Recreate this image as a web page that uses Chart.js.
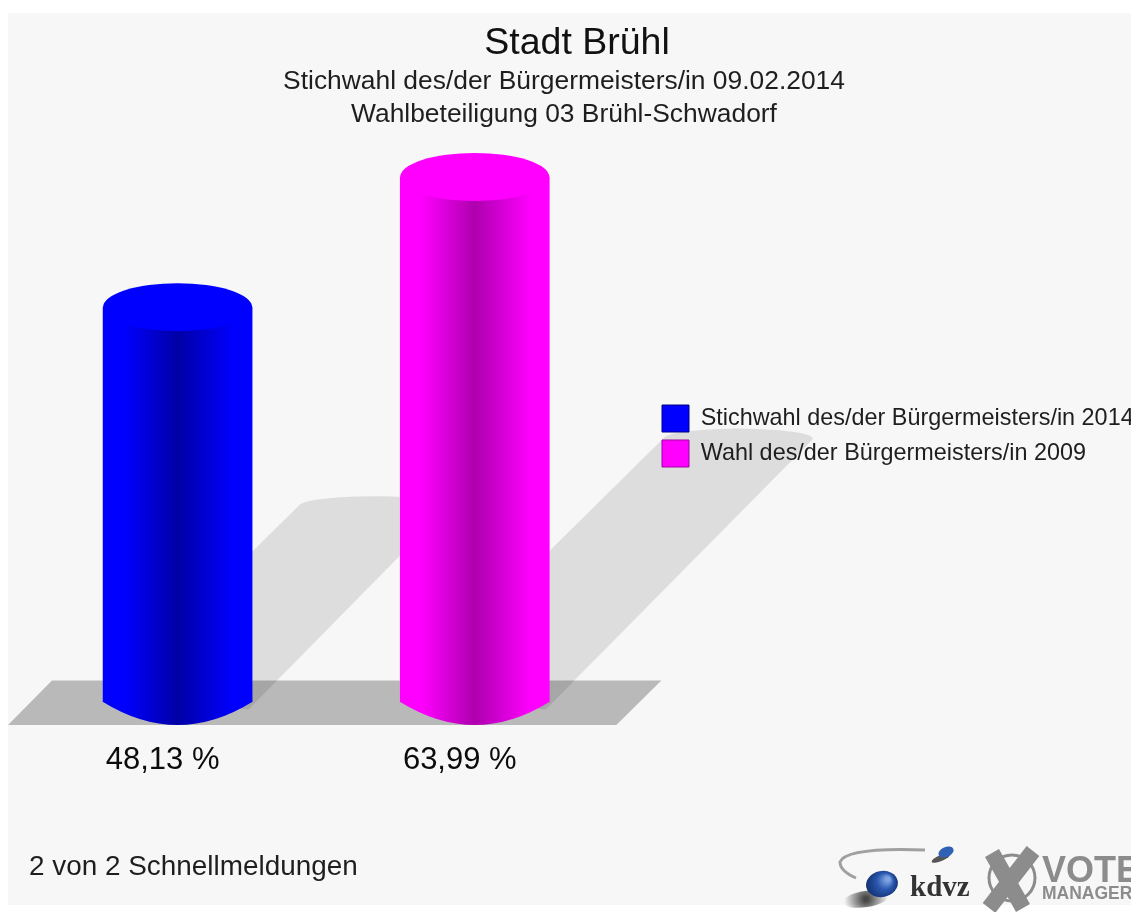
<!DOCTYPE html>
<html>
<head>
<meta charset="utf-8">
<title>Stadt Brühl</title>
<script src="https://cdn.jsdelivr.net/npm/chart.js@4"></script>
<style>
    body { margin: 0; background: #fff; }
    canvas { display: block; filter: blur(0.5px); }
</style>
</head>
<body>
<canvas id="chart" width="1131" height="912"></canvas>
<script>
const titleText = "Stadt Brühl";
const subtitleLines = ["Stichwahl des/der Bürgermeisters/in 09.02.2014", "Wahlbeteiligung 03 Brühl-Schwadorf"];
const categories = ["Stichwahl des/der Bürgermeisters/in 2014", "Wahl des/der Bürgermeisters/in 2009"];
const turnout = [48.13, 63.99];
const footerText = "2 von 2 Schnellmeldungen";
const brightColors = ["#0000ff", "#ff00ff"];
const darkColors = ["#0000a6", "#ae00ae"];
const legendBorders = ["#000080", "#a000a0"];

const fontFamily = "'Liberation Sans', Arial, sans-serif";
const textColor = "#1e1e1e";
const capHeight = 24;

function barGradient(ctx, left, right, i) {
    let g = ctx.createLinearGradient(left, 0, right, 0);
    g.addColorStop(0, brightColors[i]);
    g.addColorStop(0.14, brightColors[i]);
    g.addColorStop(0.5, darkColors[i]);
    g.addColorStop(0.88, brightColors[i]);
    g.addColorStop(1, brightColors[i]);
    return g;
}

// light grey panel behind everything
const panelPlugin = {
    id: "panel",
    beforeDraw(chart) {
        const ctx = chart.ctx;
        ctx.save();
        ctx.fillStyle = "#f7f7f7";
        ctx.fillRect(8, 13, chart.width - 8, chart.height - 20);
        ctx.restore();
    },
};

// title, subtitle and legend do not sit where the layout puts them, move them after it ran
const placementPlugin = {
    id: "placement",
    afterLayout(chart) {
        chart.boxes.forEach((box) => {
            if (box === chart.titleBlock) {
                box.left += 6;
                box.right += 6;
            } else if (box === chart.legend) {
                box.left = 654;
                box.right = chart.width;
                box.top = 397;
            } else if (box.options && box.options.text === subtitleLines) {
                box.left -= 7;
                box.right -= 7;
            }
        });
    },
};

// floor plate and the cast shadows, has to go in before the legend is drawn
const floorPlugin = {
    id: "floor",
    beforeDraw(chart) {
        const ctx = chart.ctx;
        const x = chart.scales.x;
        const y0 = chart.scales.y.getPixelForValue(0);
        ctx.save();
        ctx.fillStyle = "#b9b9b9";
        ctx.beginPath();
        ctx.moveTo(x.left - 21, y0 + 23);
        ctx.lineTo(x.left + 23, y0 - 21.5);
        ctx.lineTo(x.right + 38, y0 - 21.5);
        ctx.lineTo(x.right - 7, y0 + 23);
        ctx.closePath();
        ctx.fill();

        ctx.fillStyle = "rgba(0,0,0,0.1)";
        chart.getDatasetMeta(0).data.forEach((bar) => {
            const rx = bar.width / 2;
            const h = y0 - bar.y;
            const off = 0.519 * h - 9;
            const shadowRy = 10;
            const d = Math.hypot(rx, capHeight);
            const tip = Math.atan2(shadowRy, rx);
            ctx.beginPath();
            ctx.moveTo(bar.x - rx * rx / d, y0 - capHeight * capHeight / d);
            ctx.ellipse(bar.x + off, y0 - off, rx, shadowRy, 0, Math.PI + tip, 2 * Math.PI + tip);
            ctx.lineTo(bar.x + rx * rx / d, y0 + capHeight * capHeight / d);
            ctx.closePath();
            ctx.fill();
        });
        ctx.restore();
    },
};

// turns the flat bars into cylinders: round bottom and top cap
const cylinderPlugin = {
    id: "cylinder",
    afterDatasetsDraw(chart) {
        const ctx = chart.ctx;
        const y0 = chart.scales.y.getPixelForValue(0);
        ctx.save();
        chart.getDatasetMeta(0).data.forEach((bar, i) => {
            const left = bar.x - bar.width / 2;
            const right = bar.x + bar.width / 2;
            ctx.fillStyle = barGradient(ctx, left, right, i);
            ctx.beginPath();
            ctx.moveTo(left, y0 - 1);
            ctx.lineTo(left, y0);
            ctx.quadraticCurveTo(bar.x, y0 + 2 * (capHeight - 1), right, y0);
            ctx.lineTo(right, y0 - 1);
            ctx.closePath();
            ctx.fill();

            ctx.fillStyle = brightColors[i];
            ctx.beginPath();
            ctx.ellipse(bar.x, bar.y, bar.width / 2, capHeight, 0, 0, 2 * Math.PI);
            ctx.fill();
        });
        ctx.restore();
    },
};

// kdvz and Vote Manager logos at the bottom right
const logoPlugin = {
    id: "logo",
    afterDraw(chart) {
        const ctx = chart.ctx;
        ctx.save();

        ctx.strokeStyle = "#a0a0a0";
        ctx.lineWidth = 3;
        ctx.beginPath();
        ctx.moveTo(925, 850);
        ctx.quadraticCurveTo(846, 847, 840, 862);
        ctx.quadraticCurveTo(840, 871, 856, 878);
        ctx.stroke();

        ctx.fillStyle = "#555";
        ctx.beginPath();
        ctx.ellipse(941, 858, 10, 3, -0.4, 0, 2 * Math.PI);
        ctx.fill();
        ctx.fillStyle = "#2f62b5";
        ctx.beginPath();
        ctx.ellipse(946, 852, 8, 5, -0.4, 0, 2 * Math.PI);
        ctx.fill();

        let shade = ctx.createRadialGradient(866, 899, 2, 866, 899, 22);
        shade.addColorStop(0, "rgba(40,40,40,0.85)");
        shade.addColorStop(1, "rgba(40,40,40,0)");
        ctx.fillStyle = shade;
        ctx.beginPath();
        ctx.ellipse(866, 899, 24, 8, -0.15, 0, 2 * Math.PI);
        ctx.fill();
        let ball = ctx.createRadialGradient(888, 879, 2, 882, 884, 16);
        ball.addColorStop(0, "#7fa4e0");
        ball.addColorStop(0.45, "#2a58b0");
        ball.addColorStop(1, "#123070");
        ctx.fillStyle = ball;
        ctx.beginPath();
        ctx.ellipse(882, 884, 16, 13, -0.2, 0, 2 * Math.PI);
        ctx.fill();

        ctx.fillStyle = "#333";
        ctx.font = "bold 29px 'Liberation Serif', serif";
        ctx.textBaseline = "alphabetic";
        ctx.fillText("kdvz", 910, 896);

        ctx.strokeStyle = "#8c8c8c";
        ctx.lineWidth = 3;
        ctx.beginPath();
        ctx.arc(1012, 878, 23, 0, 2 * Math.PI);
        ctx.stroke();
        ctx.lineWidth = 16;
        ctx.beginPath();
        ctx.moveTo(992, 853);
        ctx.lineTo(1023, 908);
        ctx.moveTo(1033, 851);
        ctx.lineTo(989, 908);
        ctx.stroke();

        ctx.fillStyle = "#8c8c8c";
        ctx.font = "bold 36px " + fontFamily;
        ctx.fillText("VOTE", 1042, 882);
        ctx.font = "bold 17.5px " + fontFamily;
        ctx.fillText("MANAGER", 1042, 899);
        ctx.restore();
    },
};

new Chart(document.getElementById("chart"), {
    type: "bar",
    data: {
        labels: categories,
        datasets: [{
            data: turnout,
            barThickness: 149,
            borderWidth: 0,
            backgroundColor(c) {
                const x = c.chart.scales.x;
                if (!x || c.dataIndex === undefined) return brightColors[0];
                const center = x.getPixelForValue(c.dataIndex);
                return barGradient(c.chart.ctx, center - 74.5, center + 74.5, c.dataIndex);
            },
        }],
    },
    options: {
        responsive: false,
        animation: false,
        layout: { padding: { top: 20, left: 29, right: 18, bottom: 27.2 } },
        scales: {
            x: {
                grid: { display: false, drawTicks: false },
                border: { display: false },
                ticks: {
                    padding: 40,
                    labelOffset: -15,
                    maxRotation: 0,
                    autoSkip: false,
                    color: "#0c0c0c",
                    font: { family: fontFamily, size: 31, lineHeight: 1.2 },
                    callback(value, index) {
                        return turnout[index].toFixed(2).replace(".", ",") + " %";
                    },
                },
                title: {
                    display: true,
                    text: footerText,
                    align: "start",
                    color: textColor,
                    padding: { top: 31, bottom: 1 },
                    font: { family: fontFamily, size: 27.9, lineHeight: 1.2 },
                },
            },
            y: { display: false, min: 0, max: 69.6 },
        },
        plugins: {
            title: {
                display: true,
                text: titleText,
                color: "#111",
                padding: { top: 1, bottom: -1 },
                font: { family: fontFamily, size: 37.5, weight: "normal", lineHeight: 1.2 },
            },
            subtitle: {
                display: true,
                text: subtitleLines,
                color: textColor,
                padding: 0,
                font: { family: fontFamily, size: 26.4, lineHeight: 1.25 },
            },
            legend: {
                position: "right",
                align: "start",
                labels: {
                    boxWidth: 27,
                    boxHeight: 27,
                    padding: 8,
                    font: { family: fontFamily, size: 23.4 },
                    generateLabels() {
                        return categories.map((text, i) => ({
                            text: text,
                            fillStyle: brightColors[i],
                            strokeStyle: legendBorders[i],
                            fontColor: textColor,
                            lineWidth: 1,
                            index: i,
                        }));
                    },
                },
            },
            tooltip: { enabled: false },
        },
    },
    plugins: [panelPlugin, floorPlugin, placementPlugin, cylinderPlugin, logoPlugin],
});
</script>
</body>
</html>
